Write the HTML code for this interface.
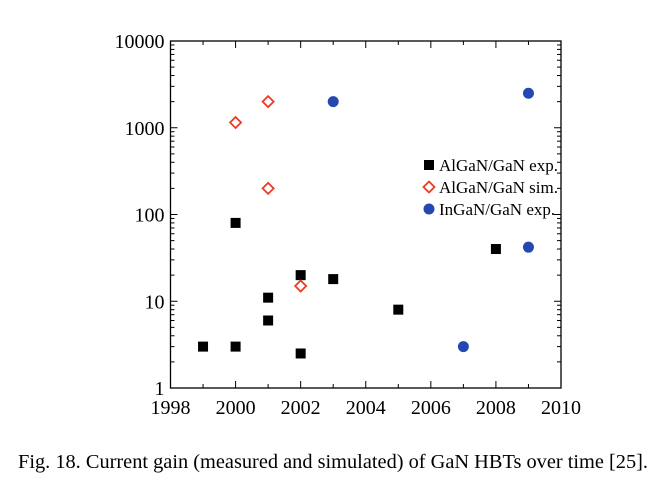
<!DOCTYPE html>
<html><head><meta charset="utf-8"><style>
body{margin:0;background:#fff;width:670px;height:480px;overflow:hidden}
svg{font-family:"Liberation Serif",serif}
</style></head><body>
<svg width="670" height="480" id="c"></svg>
<script>
const years=[1998,2000,2002,2004,2006,2008,2010];
const yTicks=[1,10,100,1000,10000];
const algExpX=[1999,2000,2000,2001,2001,2002,2002,2003,2005,2008];
const algExpY=[3,80,3,11,6,20,2.5,18,8,40];
const algSimX=[2000,2001,2001,2002];
const algSimY=[1150,2000,200,15];
const inExpX=[2003,2007,2009,2009];
const inExpY=[2000,3,2500,42];
const legendLabels=["AlGaN/GaN exp.","AlGaN/GaN sim.","InGaN/GaN exp."];

const L=170.5,R=561,T=41,B=388;
const sx=v=>L+(v-1998)/12*(R-L);
const sy=v=>B-Math.log10(v)/4*(B-T);
const svg=document.getElementById('c');
const NS="http://www.w3.org/2000/svg";
function mk(t,a,p){const e=document.createElementNS(NS,t);for(const k in a)e.setAttribute(k,a[k]);(p||svg).appendChild(e);return e;}
// x ticks
for(let y=1998;y<=2010;y++){const x=sx(y),len=(y%2==0)?7:4;
 mk('line',{x1:x,y1:B,x2:x,y2:B-len,stroke:'#000'});mk('line',{x1:x,y1:T,x2:x,y2:T+len,stroke:'#000'});}
years.forEach(y=>{const t=mk('text',{x:sx(y),y:B+26,'text-anchor':'middle','font-size':20});t.textContent=y;
 });
// y ticks
for(let d=0;d<4;d++)for(let m=1;m<=9;m++){const v=m*Math.pow(10,d),y=sy(v),len=m==1?7:4;
 mk('line',{x1:L,y1:y,x2:L+len,y2:y,stroke:'#000'});mk('line',{x1:R,y1:y,x2:R-len,y2:y,stroke:'#000'});}
yTicks.forEach(v=>{const t=mk('text',{x:L-6,y:sy(v)+7,'text-anchor':'end','font-size':20});t.textContent=v;
 });
function sq(x,y){const r=mk('rect',{x:x-5,y:y-5,width:10,height:10,fill:'#000'});}
function di(x,y){const r=mk('polygon',{points:`${x},${y-5.5} ${x+5.5},${y} ${x},${y+5.5} ${x-5.5},${y}`,fill:'none',stroke:'#f03a22','stroke-width':1.8});}
function ci(x,y){const r=mk('circle',{cx:x,cy:y,r:5.5,fill:'#2548b0'});}
algExpX.forEach((x,i)=>sq(sx(x),sy(algExpY[i])));
algSimX.forEach((x,i)=>di(sx(x),sy(algSimY[i])));
inExpX.forEach((x,i)=>ci(sx(x),sy(inExpY[i])));
// legend
const lf=[sq,di,ci];
legendLabels.forEach((s,i)=>{const y=165+i*22;lf[i](429,y);
 const t=mk('text',{x:439,y:y+6,'font-size':17});t.textContent=s;
 });
// cover legend overflow outside frame
mk('rect',{x:R+0.7,y:150,width:20,height:70,fill:'#fff'});
let e=mk('rect',{x:L,y:T,width:R-L,height:B-T,fill:'none',stroke:'#000','stroke-width':1.3});

const cap=mk('text',{x:18,y:468,'font-size':20,textLength:630,lengthAdjust:'spacingAndGlyphs'});cap.textContent="Fig. 18. Current gain (measured and simulated) of GaN HBTs over time [25].";

</script>
</body></html>
